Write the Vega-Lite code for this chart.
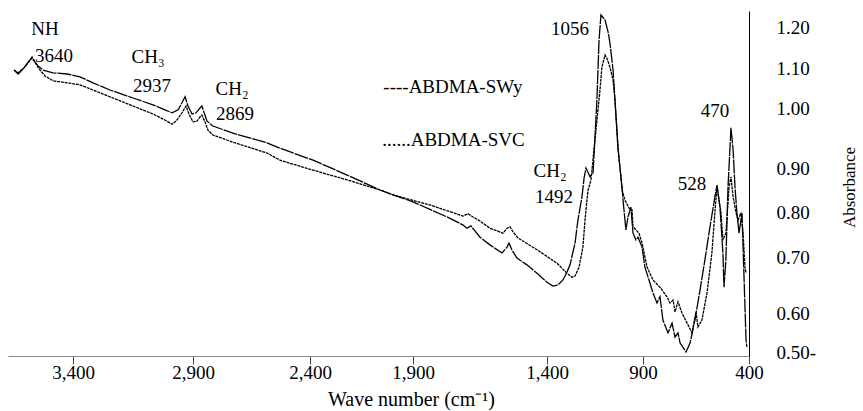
{
  "$schema": "https://vega.github.io/schema/vega-lite/v6.json",
  "width": 741,
  "height": 345,
  "autosize": "none",
  "padding": {"left": 8, "top": 11, "right": 114, "bottom": 55},
  "background": "white",
  "config": {"view": {"stroke": null}, "font": "Liberation Serif, serif"},
  "datasets": {
    "spectra": [
      {"series":"ABDMA-SWy","wn":3645,"abs":1.095},{"series":"ABDMA-SWy","wn":3628,"abs":1.085},{"series":"ABDMA-SWy","wn":3604,"abs":1.1},{"series":"ABDMA-SWy","wn":3583,"abs":1.117},{"series":"ABDMA-SWy","wn":3570,"abs":1.127},{"series":"ABDMA-SWy","wn":3558,"abs":1.115},{"series":"ABDMA-SWy","wn":3545,"abs":1.105},{"series":"ABDMA-SWy","wn":3525,"abs":1.095},{"series":"ABDMA-SWy","wn":3483,"abs":1.088},{"series":"ABDMA-SWy","wn":3425,"abs":1.085},{"series":"ABDMA-SWy","wn":3371,"abs":1.078},{"series":"ABDMA-SWy","wn":3317,"abs":1.063},{"series":"ABDMA-SWy","wn":3246,"abs":1.045},{"series":"ABDMA-SWy","wn":3150,"abs":1.025},{"series":"ABDMA-SWy","wn":3067,"abs":1.008},{"series":"ABDMA-SWy","wn":3017,"abs":0.997},{"series":"ABDMA-SWy","wn":2987,"abs":0.992},{"series":"ABDMA-SWy","wn":2962,"abs":0.997},{"series":"ABDMA-SWy","wn":2946,"abs":1.013},{"series":"ABDMA-SWy","wn":2933,"abs":1.028},{"series":"ABDMA-SWy","wn":2921,"abs":1.005},{"series":"ABDMA-SWy","wn":2904,"abs":0.99},{"series":"ABDMA-SWy","wn":2887,"abs":0.992},{"series":"ABDMA-SWy","wn":2870,"abs":1.0},{"series":"ABDMA-SWy","wn":2862,"abs":1.005},{"series":"ABDMA-SWy","wn":2853,"abs":0.993},{"series":"ABDMA-SWy","wn":2840,"abs":0.978},{"series":"ABDMA-SWy","wn":2815,"abs":0.97},{"series":"ABDMA-SWy","wn":2729,"abs":0.958},{"series":"ABDMA-SWy","wn":2584,"abs":0.942},{"series":"ABDMA-SWy","wn":2528,"abs":0.933},{"series":"ABDMA-SWy","wn":2385,"abs":0.913},{"series":"ABDMA-SWy","wn":2220,"abs":0.884},{"series":"ABDMA-SWy","wn":2060,"abs":0.85},{"series":"ABDMA-SWy","wn":1997,"abs":0.839},{"series":"ABDMA-SWy","wn":1900,"abs":0.823},{"series":"ABDMA-SWy","wn":1773,"abs":0.789},{"series":"ABDMA-SWy","wn":1713,"abs":0.771},{"series":"ABDMA-SWy","wn":1699,"abs":0.764},{"series":"ABDMA-SWy","wn":1684,"abs":0.769},{"series":"ABDMA-SWy","wn":1669,"abs":0.758},{"series":"ABDMA-SWy","wn":1650,"abs":0.744},{"series":"ABDMA-SWy","wn":1613,"abs":0.727},{"series":"ABDMA-SWy","wn":1568,"abs":0.709},{"series":"ABDMA-SWy","wn":1549,"abs":0.722},{"series":"ABDMA-SWy","wn":1542,"abs":0.731},{"series":"ABDMA-SWy","wn":1531,"abs":0.716},{"series":"ABDMA-SWy","wn":1512,"abs":0.698},{"series":"ABDMA-SWy","wn":1475,"abs":0.686},{"series":"ABDMA-SWy","wn":1437,"abs":0.671},{"series":"ABDMA-SWy","wn":1400,"abs":0.655},{"series":"ABDMA-SWy","wn":1369,"abs":0.648},{"series":"ABDMA-SWy","wn":1343,"abs":0.65},{"series":"ABDMA-SWy","wn":1317,"abs":0.659},{"series":"ABDMA-SWy","wn":1296,"abs":0.673},{"series":"ABDMA-SWy","wn":1280,"abs":0.686},{"series":"ABDMA-SWy","wn":1254,"abs":0.731},{"series":"ABDMA-SWy","wn":1239,"abs":0.782},{"series":"ABDMA-SWy","wn":1218,"abs":0.834},{"series":"ABDMA-SWy","wn":1207,"abs":0.877},{"series":"ABDMA-SWy","wn":1197,"abs":0.9},{"series":"ABDMA-SWy","wn":1176,"abs":0.88},{"series":"ABDMA-SWy","wn":1160,"abs":0.889},{"series":"ABDMA-SWy","wn":1140,"abs":1.02},{"series":"ABDMA-SWy","wn":1129,"abs":1.168},{"series":"ABDMA-SWy","wn":1119,"abs":1.23},{"series":"ABDMA-SWy","wn":1098,"abs":1.218},{"series":"ABDMA-SWy","wn":1082,"abs":1.188},{"series":"ABDMA-SWy","wn":1072,"abs":1.161},{"series":"ABDMA-SWy","wn":1056,"abs":1.095},{"series":"ABDMA-SWy","wn":1046,"abs":1.02},{"series":"ABDMA-SWy","wn":1030,"abs":0.93},{"series":"ABDMA-SWy","wn":1009,"abs":0.857},{"series":"ABDMA-SWy","wn":1004,"abs":0.827},{"series":"ABDMA-SWy","wn":989,"abs":0.76},{"series":"ABDMA-SWy","wn":978,"abs":0.789},{"series":"ABDMA-SWy","wn":963,"abs":0.811},{"series":"ABDMA-SWy","wn":952,"abs":0.753},{"series":"ABDMA-SWy","wn":937,"abs":0.738},{"series":"ABDMA-SWy","wn":926,"abs":0.744},{"series":"ABDMA-SWy","wn":905,"abs":0.722},{"series":"ABDMA-SWy","wn":891,"abs":0.682},{"series":"ABDMA-SWy","wn":876,"abs":0.664},{"series":"ABDMA-SWy","wn":853,"abs":0.636},{"series":"ABDMA-SWy","wn":834,"abs":0.618},{"series":"ABDMA-SWy","wn":820,"abs":0.629},{"series":"ABDMA-SWy","wn":806,"abs":0.582},{"series":"ABDMA-SWy","wn":782,"abs":0.549},{"series":"ABDMA-SWy","wn":763,"abs":0.574},{"series":"ABDMA-SWy","wn":749,"abs":0.538},{"series":"ABDMA-SWy","wn":735,"abs":0.549},{"series":"ABDMA-SWy","wn":725,"abs":0.523},{"series":"ABDMA-SWy","wn":697,"abs":0.5},{"series":"ABDMA-SWy","wn":678,"abs":0.523},{"series":"ABDMA-SWy","wn":655,"abs":0.582},{"series":"ABDMA-SWy","wn":631,"abs":0.641},{"series":"ABDMA-SWy","wn":608,"abs":0.695},{"series":"ABDMA-SWy","wn":584,"abs":0.767},{"series":"ABDMA-SWy","wn":561,"abs":0.834},{"series":"ABDMA-SWy","wn":551,"abs":0.861},{"series":"ABDMA-SWy","wn":537,"abs":0.811},{"series":"ABDMA-SWy","wn":523,"abs":0.709},{"series":"ABDMA-SWy","wn":518,"abs":0.646},{"series":"ABDMA-SWy","wn":509,"abs":0.695},{"series":"ABDMA-SWy","wn":499,"abs":0.857},{"series":"ABDMA-SWy","wn":485,"abs":0.967},{"series":"ABDMA-SWy","wn":475,"abs":0.93},{"series":"ABDMA-SWy","wn":466,"abs":0.857},{"series":"ABDMA-SWy","wn":457,"abs":0.798},{"series":"ABDMA-SWy","wn":447,"abs":0.753},{"series":"ABDMA-SWy","wn":433,"abs":0.798},{"series":"ABDMA-SWy","wn":428,"abs":0.722},{"series":"ABDMA-SWy","wn":414,"abs":0.531},{"series":"ABDMA-SWy","wn":410,"abs":0.513},
      {"series":"ABDMA-SVC","wn":3645,"abs":1.095},{"series":"ABDMA-SVC","wn":3628,"abs":1.088},{"series":"ABDMA-SVC","wn":3604,"abs":1.1},{"series":"ABDMA-SVC","wn":3583,"abs":1.115},{"series":"ABDMA-SVC","wn":3570,"abs":1.124},{"series":"ABDMA-SVC","wn":3554,"abs":1.11},{"series":"ABDMA-SVC","wn":3537,"abs":1.095},{"series":"ABDMA-SVC","wn":3516,"abs":1.08},{"series":"ABDMA-SVC","wn":3483,"abs":1.068},{"series":"ABDMA-SVC","wn":3425,"abs":1.063},{"series":"ABDMA-SVC","wn":3371,"abs":1.058},{"series":"ABDMA-SVC","wn":3317,"abs":1.045},{"series":"ABDMA-SVC","wn":3246,"abs":1.028},{"series":"ABDMA-SVC","wn":3150,"abs":1.005},{"series":"ABDMA-SVC","wn":3067,"abs":0.99},{"series":"ABDMA-SVC","wn":3017,"abs":0.98},{"series":"ABDMA-SVC","wn":2987,"abs":0.973},{"series":"ABDMA-SVC","wn":2967,"abs":0.98},{"series":"ABDMA-SVC","wn":2946,"abs":0.992},{"series":"ABDMA-SVC","wn":2929,"abs":1.005},{"series":"ABDMA-SVC","wn":2917,"abs":0.99},{"series":"ABDMA-SVC","wn":2900,"abs":0.977},{"series":"ABDMA-SVC","wn":2883,"abs":0.978},{"series":"ABDMA-SVC","wn":2870,"abs":0.985},{"series":"ABDMA-SVC","wn":2862,"abs":0.988},{"series":"ABDMA-SVC","wn":2849,"abs":0.977},{"series":"ABDMA-SVC","wn":2836,"abs":0.963},{"series":"ABDMA-SVC","wn":2815,"abs":0.955},{"series":"ABDMA-SVC","wn":2729,"abs":0.943},{"series":"ABDMA-SVC","wn":2584,"abs":0.925},{"series":"ABDMA-SVC","wn":2528,"abs":0.913},{"series":"ABDMA-SVC","wn":2385,"abs":0.895},{"series":"ABDMA-SVC","wn":2220,"abs":0.873},{"series":"ABDMA-SVC","wn":2060,"abs":0.85},{"series":"ABDMA-SVC","wn":1997,"abs":0.839},{"series":"ABDMA-SVC","wn":1837,"abs":0.816},{"series":"ABDMA-SVC","wn":1713,"abs":0.791},{"series":"ABDMA-SVC","wn":1695,"abs":0.796},{"series":"ABDMA-SVC","wn":1676,"abs":0.789},{"series":"ABDMA-SVC","wn":1650,"abs":0.78},{"series":"ABDMA-SVC","wn":1613,"abs":0.764},{"series":"ABDMA-SVC","wn":1564,"abs":0.753},{"series":"ABDMA-SVC","wn":1549,"abs":0.764},{"series":"ABDMA-SVC","wn":1538,"abs":0.767},{"series":"ABDMA-SVC","wn":1527,"abs":0.756},{"series":"ABDMA-SVC","wn":1508,"abs":0.742},{"series":"ABDMA-SVC","wn":1437,"abs":0.716},{"series":"ABDMA-SVC","wn":1348,"abs":0.689},{"series":"ABDMA-SVC","wn":1296,"abs":0.671},{"series":"ABDMA-SVC","wn":1270,"abs":0.664},{"series":"ABDMA-SVC","wn":1254,"abs":0.666},{"series":"ABDMA-SVC","wn":1233,"abs":0.682},{"series":"ABDMA-SVC","wn":1213,"abs":0.722},{"series":"ABDMA-SVC","wn":1202,"abs":0.782},{"series":"ABDMA-SVC","wn":1192,"abs":0.827},{"series":"ABDMA-SVC","wn":1186,"abs":0.85},{"series":"ABDMA-SVC","wn":1171,"abs":0.873},{"series":"ABDMA-SVC","wn":1150,"abs":0.947},{"series":"ABDMA-SVC","wn":1124,"abs":1.045},{"series":"ABDMA-SVC","wn":1114,"abs":1.102},{"series":"ABDMA-SVC","wn":1098,"abs":1.132},{"series":"ABDMA-SVC","wn":1088,"abs":1.124},{"series":"ABDMA-SVC","wn":1072,"abs":1.102},{"series":"ABDMA-SVC","wn":1056,"abs":1.07},{"series":"ABDMA-SVC","wn":1046,"abs":1.02},{"series":"ABDMA-SVC","wn":1030,"abs":0.935},{"series":"ABDMA-SVC","wn":1009,"abs":0.85},{"series":"ABDMA-SVC","wn":994,"abs":0.827},{"series":"ABDMA-SVC","wn":973,"abs":0.809},{"series":"ABDMA-SVC","wn":957,"abs":0.805},{"series":"ABDMA-SVC","wn":952,"abs":0.767},{"series":"ABDMA-SVC","wn":921,"abs":0.753},{"series":"ABDMA-SVC","wn":905,"abs":0.731},{"series":"ABDMA-SVC","wn":881,"abs":0.682},{"series":"ABDMA-SVC","wn":853,"abs":0.659},{"series":"ABDMA-SVC","wn":820,"abs":0.646},{"series":"ABDMA-SVC","wn":787,"abs":0.629},{"series":"ABDMA-SVC","wn":773,"abs":0.618},{"series":"ABDMA-SVC","wn":758,"abs":0.623},{"series":"ABDMA-SVC","wn":749,"abs":0.602},{"series":"ABDMA-SVC","wn":735,"abs":0.62},{"series":"ABDMA-SVC","wn":716,"abs":0.6},{"series":"ABDMA-SVC","wn":692,"abs":0.574},{"series":"ABDMA-SVC","wn":669,"abs":0.549},{"series":"ABDMA-SVC","wn":650,"abs":0.602},{"series":"ABDMA-SVC","wn":641,"abs":0.564},{"series":"ABDMA-SVC","wn":622,"abs":0.582},{"series":"ABDMA-SVC","wn":598,"abs":0.636},{"series":"ABDMA-SVC","wn":575,"abs":0.709},{"series":"ABDMA-SVC","wn":560,"abs":0.805},{"series":"ABDMA-SVC","wn":551,"abs":0.857},{"series":"ABDMA-SVC","wn":532,"abs":0.798},{"series":"ABDMA-SVC","wn":523,"abs":0.738},{"series":"ABDMA-SVC","wn":509,"abs":0.753},{"series":"ABDMA-SVC","wn":494,"abs":0.857},{"series":"ABDMA-SVC","wn":485,"abs":0.88},{"series":"ABDMA-SVC","wn":475,"abs":0.834},{"series":"ABDMA-SVC","wn":461,"abs":0.798},{"series":"ABDMA-SVC","wn":452,"abs":0.782},{"series":"ABDMA-SVC","wn":438,"abs":0.798},{"series":"ABDMA-SVC","wn":428,"abs":0.753},{"series":"ABDMA-SVC","wn":419,"abs":0.682},{"series":"ABDMA-SVC","wn":414,"abs":0.671}
    ],
    "notes": [
      {"label":"NH","wn":3516,"abs":1.18},
      {"label":"3640","wn":3479,"abs":1.115},
      {"label":"CH₃","wn":3087,"abs":1.112},
      {"label":"2937","wn":3071,"abs":1.04},
      {"label":"CH₂","wn":2733,"abs":1.0325},
      {"label":"2869","wn":2721,"abs":0.98},
      {"label":"----ABDMA-SWy","wn":1751,"abs":1.0375},
      {"label":"......ABDMA-SVC","wn":1749,"abs":0.937},
      {"label":"CH₂","wn":1384,"abs":0.88},
      {"label":"1492","wn":1364,"abs":0.82},
      {"label":"1056","wn":1280,"abs":1.18},
      {"label":"470","wn":560,"abs":0.985},
      {"label":"528","wn":669,"abs":0.85}
    ]
  },
  "layer": [
    {
      "data": {"name": "spectra"},
      "mark": {"type": "line", "color": "black", "strokeWidth": 1.3},
      "encoding": {
        "x": {
          "field": "wn", "type": "quantitative",
          "scale": {"domain": [400, 900, 1400, 1900, 2400, 2900, 3400, 3670], "range": [741, 635, 539, 405, 302, 185, 65, 0], "nice": false, "zero": false},
          "axis": {
            "orient": "bottom", "values": [3400, 2900, 2400, 1900, 1400, 900, 400],
            "labelExpr": "format(datum.value, ',')",
            "grid": false, "labelFont": "Liberation Serif, serif", "labelFontSize": 19, "labelColor": "black",
            "labelFlush": false, "labelOverlap": false, "labelBound": false,
            "tickSize": 8, "tickColor": "#444", "domainColor": "#888", "labelPadding": -1, "labelBaseline": "top",
            "encode": {"labels": {"update": {"dx": {"signal": "datum.value==3400?-11:datum.value==2900?-16:datum.value==2400?-19:datum.value==1900?-7:datum.value==1400?-6:datum.value==900?9:datum.value==400?25:0"}}}},
            "title": "Wave number (cm⁻¹)", "titleFont": "Liberation Serif, serif", "titleFontSize": 20, "titleFontWeight": "normal", "titleColor": "black",
            "titleX": 403, "titleY": 49, "titleBaseline": "alphabetic", "titleAlign": "center"
          }
        },
        "y": {
          "field": "abs", "type": "quantitative",
          "scale": {"domain": [0.49, 0.5, 0.6, 0.7, 0.8, 0.9, 1.0, 1.1, 1.2, 1.24], "range": [345, 341, 302, 246, 201, 157, 97, 57, 16, 0], "nice": false, "zero": false},
          "axis": {
            "orient": "right", "values": [0.5, 0.6, 0.7, 0.8, 0.9, 1.0, 1.1, 1.2],
            "labelExpr": "datum.value == 0.5 ? '0.50-' : format(datum.value, '.2f')",
            "grid": false, "ticks": false, "labelPadding": 27, "labelAlign": "left", "labelBaseline": "middle",
            "labelFont": "Liberation Serif, serif", "labelFontSize": 19, "labelColor": "black", "labelOverlap": false, "labelFlush": false, "labelBound": false,
            "domainColor": "black", "domainWidth": 1,
            "title": "Absorbance", "titleFont": "Liberation Serif, serif", "titleFontSize": 17, "titleFontWeight": "normal", "titleColor": "black",
            "titleAngle": 270, "titleX": 100, "titleY": 176, "titleBaseline": "middle", "titleAlign": "center"
          }
        },
        "strokeDash": {
          "field": "series", "type": "nominal",
          "scale": {"domain": ["ABDMA-SWy", "ABDMA-SVC"], "range": [[14, 1], [3, 0.8]]},
          "legend": null
        }
      }
    },
    {
      "data": {"name": "notes"},
      "mark": {"type": "text", "font": "Liberation Serif, serif", "fontSize": 19, "color": "black", "align": "center", "baseline": "alphabetic"},
      "encoding": {
        "x": {"field": "wn", "type": "quantitative"},
        "y": {"field": "abs", "type": "quantitative"},
        "text": {"field": "label", "type": "nominal"}
      }
    }
  ]
}
